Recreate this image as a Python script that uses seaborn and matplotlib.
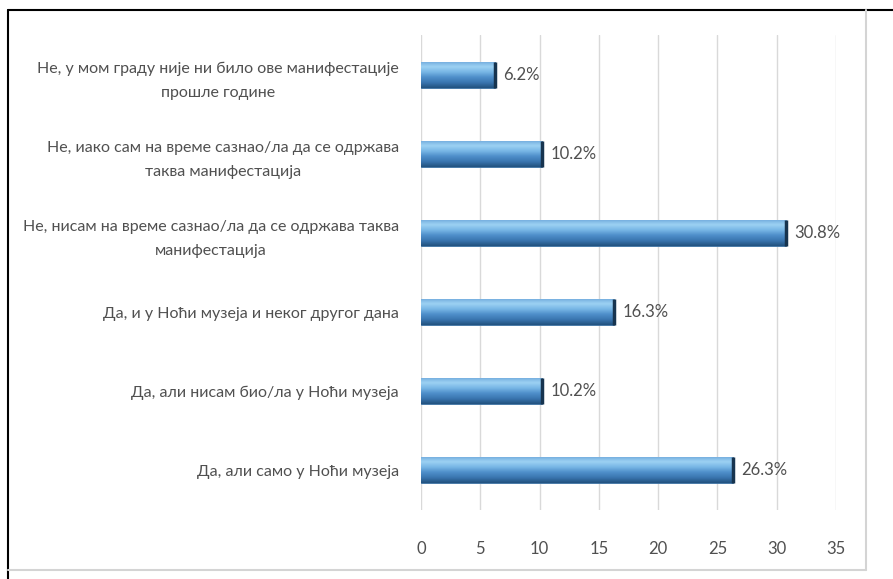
import numpy as np
import pandas as pd
import seaborn as sns
import matplotlib.pyplot as plt
from matplotlib.lines import Line2D
from matplotlib.colors import LinearSegmentedColormap

answers = [
    "Не, у мом граду није ни било ове манифестације\nпрошле године",
    "Не, иако сам на време сазнао/ла да се одржава\nтаква манифестација",
    "Не, нисам на време сазнао/ла да се одржава таква\nманифестација",
    "Да, и у Ноћи музеја и неког другог дана",
    "Да, али нисам био/ла у Ноћи музеја",
    "Да, али само у Ноћи музеја",
]
percent = [6.2, 10.2, 30.8, 16.3, 10.2, 26.3]
x_ticks = [0, 5, 10, 15, 20, 25, 30, 35]

df = pd.DataFrame({"answer": answers, "percent": percent})

sns.set_style("white")
plt.rcParams["font.family"] = ["Lato", "DejaVu Sans"]
text_color = "#505050"

fig = plt.figure(figsize=(8.93, 5.79), dpi=100)
ax = fig.add_axes([421 / 893, 1 - 510 / 579, (836 - 421) / 893, (510 - 35) / 579])

sns.barplot(data=df, x="percent", y="answer", color="#4a8ccc", width=0.33,
            orient="h", ax=ax, zorder=3)

# bevel-like gradient on each bar (light top, dark bottom)
bevel = LinearSegmentedColormap.from_list(
    "bevel", ["#6fa9dc", "#9dd2f3", "#78b7e6", "#4f8fca", "#3a76b0", "#22527f"])
grad = np.linspace(0, 1, 64).reshape(-1, 1)
for patch in ax.patches:
    x0, y0 = patch.get_x(), patch.get_y()
    w, h = patch.get_width(), patch.get_height()
    im = ax.imshow(grad, cmap=bevel, aspect="auto", zorder=4, origin="upper",
                   extent=(x0, x0 + w, y0 + h, y0), interpolation="bicubic")
    im.set_clip_path(patch)
    patch.set_edgecolor("#3b6f9f")
    patch.set_linewidth(0.6)
    # darker right end cap
    ax.plot([x0 + w, x0 + w], [y0, y0 + h], color="#17344f", lw=2.5, zorder=5,
            solid_capstyle="butt")
    ax.text(x0 + w + 0.7, y0 + h / 2, f"{w:.1f}%", va="center", ha="left",
            fontsize=12, color=text_color, zorder=6)

ax.set_xlim(0, 35)
ax.set_ylim(5.5, -0.5)
ax.set_xticks(x_ticks)
ax.set_xticklabels([str(t) for t in x_ticks])
ax.grid(axis="x", color="#d9d9d9", lw=1, zorder=0)
ax.grid(axis="y", visible=False)
for s in ax.spines.values():
    s.set_visible(False)
ax.tick_params(axis="both", length=0, colors=text_color, labelsize=11.5)
ax.tick_params(axis="x", pad=22, labelsize=12)
ax.tick_params(axis="y", pad=16)
for lbl in ax.get_yticklabels():
    lbl.set_multialignment("center")
    lbl.set_linespacing(1.9)
ax.set_xlabel("")
ax.set_ylabel("")

# frame around the chart
fig.add_artist(Line2D([8 / 893, 8 / 893], [0, 1 - 10 / 579], color="black", lw=1.5))
fig.add_artist(Line2D([8 / 893, 1], [1 - 10 / 579, 1 - 10 / 579], color="black", lw=1.5))
fig.add_artist(Line2D([866 / 893, 866 / 893], [1 - 570 / 579, 1 - 10 / 579], color="#d4d4d4", lw=1.5))
fig.add_artist(Line2D([8 / 893, 866 / 893], [1 - 570 / 579, 1 - 570 / 579], color="#d4d4d4", lw=1.5))

fig.savefig("out.png", dpi=100)
